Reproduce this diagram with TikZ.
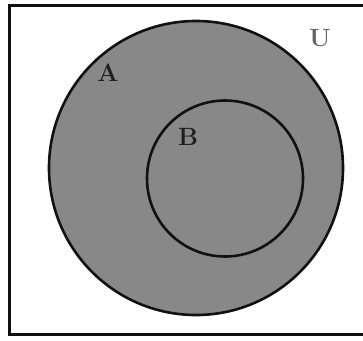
\documentclass[tikz,border=0pt]{standalone}
\usetikzlibrary{positioning}
\definecolor{cfill}{HTML}{888888}
\definecolor{cline}{HTML}{111111}
\definecolor{cletter}{HTML}{1E1E1E}
\tikzset{
  every picture/.style={line width=2.6pt},
  set/.style={circle, draw=cline, fill=cfill, inner sep=0pt, minimum size=#1},
  lbl/.style={font=\fontsize{25}{28}\selectfont\bfseries, text=cletter, inner sep=0pt},
}

\begin{document}
\begin{tikzpicture}[x=1pt, y=-1pt]
  \useasboundingbox (0,0) rectangle (363,340);
  \begin{scope}
    \clip (0,0) rectangle (363,340);
    \draw[cline, line width=3pt] (9.5,5) rectangle (375,334);
  \end{scope}
  \node[set=294pt] (setA) at (196,168) {};
  \node[set=156pt] (setB) at (225,178.5) {};
  \node[lbl] (labA) at (108,73) {A};
  \node[lbl] (labB) at (188,137) {B};
  \node[lbl, text=cline!65] (labU) at (320,38) {U};
\end{tikzpicture}
\end{document}
